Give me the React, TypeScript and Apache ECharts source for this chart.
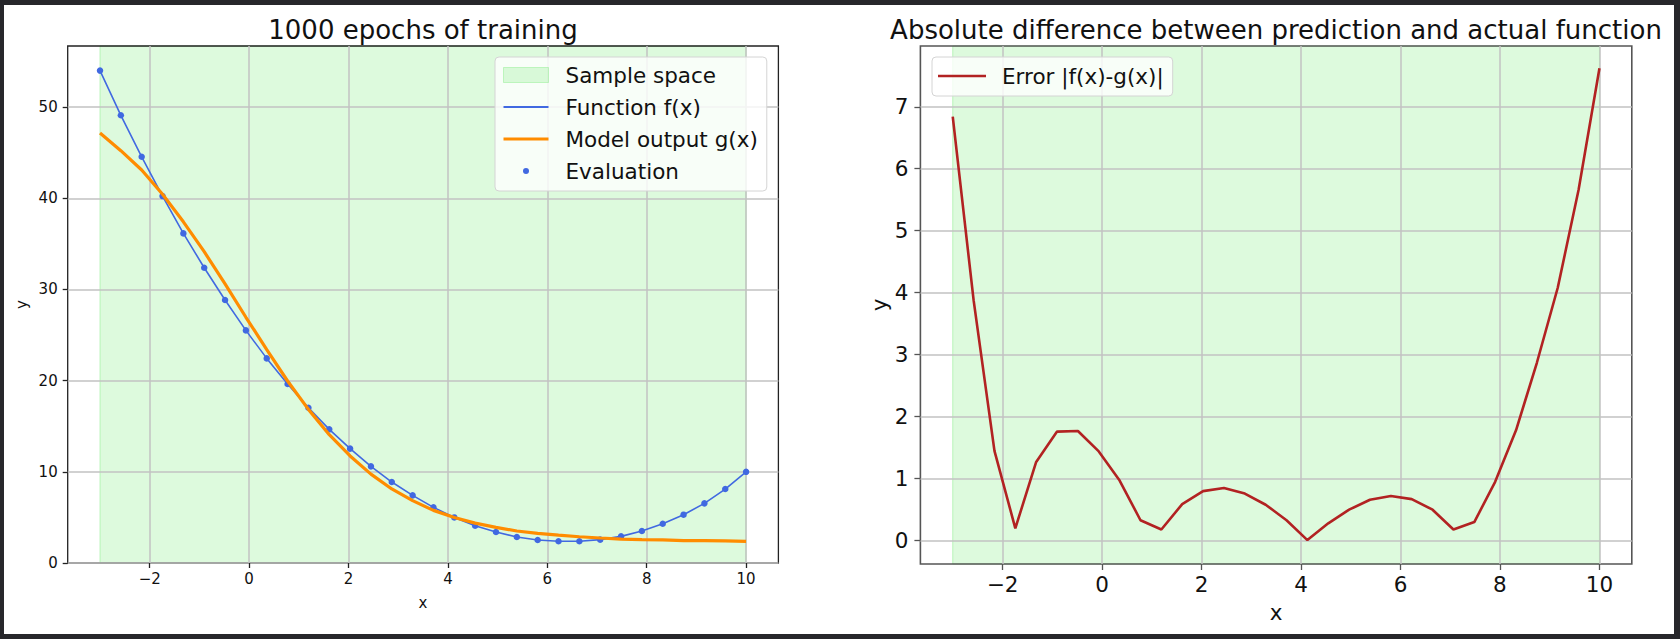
import React, { useEffect, useRef } from "react";
import * as echarts from "echarts";

// ---- data ----
const xValues = [
  -3, -2.5806, -2.1613, -1.7419, -1.3226, -0.9032, -0.4839, -0.0645, 0.3548, 0.7742,
  1.1935, 1.6129, 2.0323, 2.4516, 2.871, 3.2903, 3.7097, 4.129, 4.5484, 4.9677,
  5.3871, 5.8065, 6.2258, 6.6452, 7.0645, 7.4839, 7.9032, 8.3226, 8.7419, 9.1613,
  9.5806, 10,
];
const fValues = [
  54.0, 49.1, 44.55, 40.24, 36.15, 32.38, 28.84, 25.51, 22.44, 19.63,
  17.03, 14.66, 12.54, 10.6, 8.88, 7.42, 6.1, 5.0, 4.09, 3.4,
  2.85, 2.52, 2.38, 2.38, 2.56, 2.92, 3.51, 4.31, 5.3, 6.54,
  8.11, 10.0,
];
const gValues = [
  47.16, 45.22, 43.1, 40.44, 37.42, 34.14, 30.61, 26.95, 23.41, 19.96,
  16.85, 14.07, 11.74, 9.75, 8.12, 6.84, 5.77, 4.99, 4.37, 3.9,
  3.51, 3.24, 3.05, 2.88, 2.74, 2.62, 2.56, 2.53, 2.45, 2.45,
  2.43, 2.38,
];
const errValues = [
  6.84, 3.88, 1.45, 0.2, 1.27, 1.76, 1.77, 1.44, 0.97, 0.33,
  0.18, 0.59, 0.8, 0.85, 0.76, 0.58, 0.33, 0.01, 0.28, 0.5,
  0.66, 0.72, 0.67, 0.5, 0.18, 0.3, 0.95, 1.78, 2.87, 4.08,
  5.66, 7.62,
];
const sampleSpace = [-3, 10];
const xTicks = [-2, 0, 2, 4, 6, 8, 10];
const leftYTicks = [0, 10, 20, 30, 40, 50];
const rightYTicks = [0, 1, 2, 3, 4, 5, 6, 7];
const titles = [
  "1000 epochs of training",
  "Absolute difference between prediction and actual function",
];
const seriesNames = {
  sample: "Sample space",
  f: "Function f(x)",
  g: "Model output g(x)",
  evalPts: "Evaluation",
  err: "Error |f(x)-g(x)|",
};

const FONT = "DejaVu Sans";
const fmt = (v: number) => (v < 0 ? "\u2212" + Math.abs(v) : String(v));

export default function App() {
  const ref = useRef<HTMLDivElement>(null);

  useEffect(() => {
    if (!ref.current) return;
    const chart = echarts.init(ref.current, undefined, { renderer: "svg" });

    const pairs = (ys: number[]) => xValues.map((x, i) => [x, ys[i]]);
    const span = (color: string) => ({
      silent: true,
      z: -1,
      itemStyle: { color, borderColor: "rgba(144,238,144,0.55)", borderWidth: 1 },
      data: [[{ xAxis: sampleSpace[0] }, { xAxis: sampleSpace[1] }]],
    });

    const mkX = (grid: number, fs: number, tickColor: string, tickLen: number, margin: number, nameGap: number) => ({
      type: "value",
      gridIndex: grid,
      min: -3.65,
      max: 10.65,
      name: "x",
      nameLocation: "middle",
      nameGap,
      nameTextStyle: { fontSize: fs, fontFamily: FONT, color: "#111" },
      axisLine: { show: false, onZero: false },
      axisTick: { show: true, length: tickLen, customValues: xTicks, lineStyle: { color: tickColor, width: 1.3 } },
      axisLabel: { customValues: xTicks, fontSize: fs, fontFamily: FONT, color: "#111", margin, formatter: fmt },
      splitLine: { show: true, lineStyle: { color: "#c2c2c2", width: 1.5 } },
    });
    const mkY = (grid: number, min: number, max: number, ticks: number[], fs: number, tickColor: string, tickLen: number, margin: number, nameGap: number) => ({
      type: "value",
      gridIndex: grid,
      min,
      max,
      name: "y",
      nameLocation: "middle",
      nameGap,
      nameTextStyle: { fontSize: fs, fontFamily: FONT, color: "#111" },
      axisLine: { show: false, onZero: false },
      axisTick: { show: true, length: tickLen, customValues: ticks, lineStyle: { color: tickColor, width: 1.3 } },
      axisLabel: { customValues: ticks, fontSize: fs, fontFamily: FONT, color: "#111", margin, formatter: fmt },
      splitLine: { show: true, lineStyle: { color: "#c2c2c2", width: 1.5 } },
    });

    chart.setOption({
      animation: false,
      title: [
        {
          text: titles[0],
          left: 423,
          top: 15,
          padding: 0,
          textAlign: "center",
          textStyle: { fontSize: 26, fontWeight: "normal", fontFamily: FONT, color: "#111", lineHeight: 30 },
        },
        {
          text: titles[1],
          left: 1276,
          top: 15,
          padding: 0,
          textAlign: "center",
          textStyle: { fontSize: 26, fontWeight: "normal", fontFamily: FONT, color: "#111", lineHeight: 30 },
        },
      ],
      grid: [
        { left: 67.7, top: 46, width: 710.7, height: 517, show: true, borderColor: "#222", borderWidth: 1.3, backgroundColor: "transparent" },
        { left: 920.4, top: 46, width: 711.4, height: 518, show: true, borderColor: "#555", borderWidth: 1.6, backgroundColor: "transparent" },
      ],
      xAxis: [mkX(0, 15, "#222", 5, 8, 32), mkX(1, 21.5, "#555", 6, 9, 37)],
      yAxis: [
        mkY(0, 0, 56.7, leftYTicks, 15, "#222", 5, 10, 38),
        mkY(1, -0.376, 7.98, rightYTicks, 21.5, "#555", 6, 12, 28),
      ],
      legend: [
        {
          orient: "vertical",
          left: 495,
          top: 57,
          itemWidth: 45,
          itemHeight: 15,
          itemGap: 10,
          padding: [7, 9, 9, 8],
          selectedMode: false,
          backgroundColor: "rgba(255,255,255,0.8)",
          borderColor: "#d4d4d4",
          borderWidth: 1,
          borderRadius: 4,
          textStyle: { fontSize: 21.5, fontFamily: FONT, color: "#111", lineHeight: 22, padding: [0, 0, 0, 12] },
          data: [
            { name: seriesNames.sample, icon: "rect", itemStyle: { color: "rgba(144,238,144,0.3)", borderColor: "rgba(144,238,144,0.5)", borderWidth: 1 } },
            { name: seriesNames.f, icon: "path://M0,0M45,15M0,6.6h45v1.8h-45Z" },
            { name: seriesNames.g, icon: "path://M0,0M45,15M0,5.9h45v3.2h-45Z" },
            { name: seriesNames.evalPts, icon: "path://M0,0M45,15M19.5,7.5a3,3 0 1 0 6,0a3,3 0 1 0 -6,0Z" },
          ],
        },
        {
          orient: "vertical",
          left: 932,
          top: 57,
          itemWidth: 48,
          itemHeight: 15,
          padding: [8, 9, 9, 6],
          selectedMode: false,
          backgroundColor: "rgba(255,255,255,0.8)",
          borderColor: "#d4d4d4",
          borderWidth: 1,
          borderRadius: 4,
          textStyle: { fontSize: 21.5, fontFamily: FONT, color: "#111", lineHeight: 22, padding: [0, 0, 0, 11] },
          data: [{ name: seriesNames.err, icon: "path://M0,0M48,15M0,6.2h48v2.6h-48Z" }],
        },
      ],
      series: [
        {
          name: seriesNames.sample,
          type: "line",
          xAxisIndex: 0,
          yAxisIndex: 0,
          data: [],
          color: "rgba(144,238,144,0.3)",
          markArea: span("rgba(144,238,144,0.3)"),
        },
        {
          name: seriesNames.f,
          type: "line",
          xAxisIndex: 0,
          yAxisIndex: 0,
          data: pairs(fValues),
          symbol: "none",
          color: "#4169e1",
          lineStyle: { color: "#4169e1", width: 1.6 },
        },
        {
          name: seriesNames.g,
          type: "line",
          xAxisIndex: 0,
          yAxisIndex: 0,
          data: pairs(gValues),
          symbol: "none",
          color: "#ff8c00",
          lineStyle: { color: "#ff8c00", width: 3.2 },
        },
        {
          name: seriesNames.evalPts,
          type: "scatter",
          xAxisIndex: 0,
          yAxisIndex: 0,
          data: pairs(fValues),
          symbolSize: 6.5,
          color: "#4169e1",
          itemStyle: { color: "#4169e1", opacity: 1 },
        },
        {
          name: "Sample space (right)",
          type: "line",
          xAxisIndex: 1,
          yAxisIndex: 1,
          data: [],
          markArea: span("rgba(144,238,144,0.3)"),
        },
        {
          name: seriesNames.err,
          type: "line",
          xAxisIndex: 1,
          yAxisIndex: 1,
          data: pairs(errValues),
          symbol: "none",
          color: "#b22222",
          lineStyle: { color: "#b22222", width: 2.6 },
        },
      ],
    });

    return () => chart.dispose();
  }, []);

  return (
    <div style={{ position: "fixed", left: 0, top: 0, width: 1680, height: 639, background: "#27272b" }}>
      <div style={{ position: "absolute", left: 4, top: 5, width: 1670, height: 629, background: "#ffffff" }} />
      <div ref={ref} style={{ position: "absolute", left: 0, top: 0, width: 1680, height: 639 }} />
    </div>
  );
}
